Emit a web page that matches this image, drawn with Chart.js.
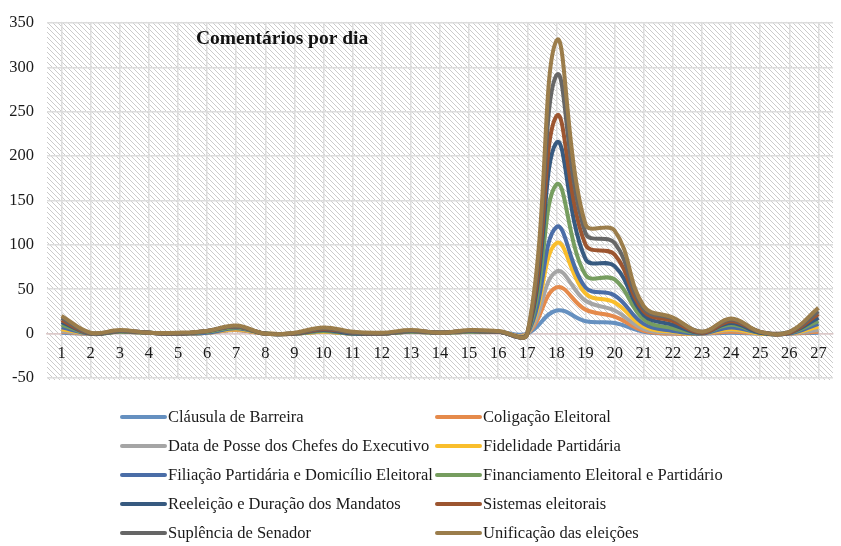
<!DOCTYPE html>
<html>
<head>
<meta charset="utf-8">
<script src="https://cdn.jsdelivr.net/npm/chart.js@4/dist/chart.umd.min.js"></script>
<style>
  html, body { margin: 0; padding: 0; background: #fff; }
  #wrap { width: 841px; height: 546px; position: relative; }
</style>
</head>
<body>
<div id="wrap"><canvas id="chart" width="841" height="546"></canvas></div>
<script>
// Comentários por dia - stacked smooth lines
const title = 'Comentários por dia';
const days = ['1','2','3','4','5','6','7','8','9','10','11','12','13','14','15','16','17','18','19','20','21','22','23','24','25','26','27'];
const yTicks = [-50, 0, 50, 100, 150, 200, 250, 300, 350];

const seriesNames = [
    'Cláusula de Barreira',
    'Coligação Eleitoral',
    'Data de Posse dos Chefes do Executivo',
    'Fidelidade Partidária',
    'Filiação Partidária e Domicílio Eleitoral',
    'Financiamento Eleitoral e Partidário',
    'Reeleição e Duração dos Mandatos',
    'Sistemas eleitorais',
    'Suplência de Senador',
    'Unificação das eleições'
];
const seriesColors = ['#6590c0', '#e58a4b', '#a5a5a5', '#f9be2c', '#4a6da7', '#769d5f', '#375a80', '#9c5530', '#666666', '#9b7d4b'];

const clausula      = [1, 0, 2, 1, 0, 1, 4, 0, 0, 2, 0, 0, 2, 1, 2, 2, 0, 26, 14, 12, 2, 0, 0, 1, 0, 0, 1];
const coligacao     = [1, 0, 0, 0, 0, 0, 0, 0, 0, 0, 0, 0, 0, 0, 0, 0, 0, 26, 13, 7, 1, 0, 0, 1, 0, 0, 1];
const dataPosse     = [1, 0, 0, 0, 0, 0, 1, 0, 0, 0, 0, 0, 0, 0, 0, 0, 0, 18, 10, 7, 2, 1, 0, 2, 0, 0, 2];
const fidelidade    = [2, 0, 0, 0, 0, 0, 0, 0, 0, 0, 0, 0, 0, 0, 0, 0, 0, 32, 8, 9, 3, 1, 0, 1, 0, 0, 4];
const filiacao      = [2, 0, 0, 0, 0, 0, 1, 0, 0, 1, 0, 0, 0, 0, 0, 0, 0, 18, 7, 8, 3, 1, 0, 2, 1, 0, 3];
const financiamento = [3, 0, 0, 0, 0, 1, 1, 0, 0, 0, 0, 0, 0, 0, 0, 0, 0, 48, 14, 18, 5, 3, 1, 3, 0, 1, 3];
const reeleicao     = [3, 0, 1, 0, 0, 1, 1, 0, 0, 1, 0, 0, 1, 0, 1, 0, 0, 47, 18, 15, 5, 4, 0, 2, 0, 0, 4];
const sistemas      = [2, 0, 0, 0, 0, 0, 0, 0, 0, 1, 1, 0, 0, 0, 0, 0, 0, 30, 16, 13, 4, 4, 0, 2, 1, 0, 4];
const suplencia     = [3, 0, 0, 0, 0, 0, 0, 0, 0, 1, 0, 0, 0, 0, 0, 0, 0, 46, 13, 13, 3, 3, 1, 2, 0, 1, 3];
const unificacao    = [2, 1, 1, 0, 1, 0, 1, 0, 1, 1, 1, 1, 1, 0, 1, 1, 0, 39, 10, 14, 3, 1, 0, 1, 0, 0, 4];

const seriesValues = [clausula, coligacao, dataPosse, fidelidade, filiacao, financiamento, reeleicao, sistemas, suplencia, unificacao];

const serif = '"Liberation Serif", "DejaVu Serif", serif';

// diagonal hatch tile for the plot background
function makeHatch() {
    const s = 5;
    const c = document.createElement('canvas');
    c.width = s; c.height = s;
    const g = c.getContext('2d');
    g.fillStyle = '#ffffff';
    g.fillRect(0, 0, s, s);
    g.strokeStyle = '#cbcbcb';
    g.lineWidth = 1;
    g.beginPath();
    g.moveTo(0, 0); g.lineTo(s, s);
    g.moveTo(-1, s - 1); g.lineTo(1, s + 1);
    g.moveTo(s - 1, -1); g.lineTo(s + 1, 1);
    g.stroke();
    return c;
}

const backgroundPlugin = {
    id: 'hatchBg',
    beforeDraw(chart) {
        const { ctx, chartArea } = chart;
        ctx.save();
        ctx.fillStyle = '#ffffff';
        ctx.fillRect(0, 0, chart.width, chart.height);
        ctx.fillStyle = ctx.createPattern(makeHatch(), 'repeat');
        ctx.fillRect(chartArea.left, chartArea.top - 1, chartArea.right - chartArea.left, chartArea.bottom - chartArea.top + 3);
        ctx.restore();
    }
};

// draw first dataset first so the top of the stack ends up on top
const drawOrderPlugin = {
    id: 'drawOrder',
    beforeDatasetsDraw(chart) {
        const { ctx, chartArea } = chart;
        ctx.save();
        ctx.beginPath();
        ctx.rect(chartArea.left, chartArea.top, chartArea.right - chartArea.left, chartArea.bottom - chartArea.top);
        ctx.clip();
        for (let i = 0; i < chart.data.datasets.length; i++) {
            chart.getDatasetMeta(i).controller.draw();
        }
        ctx.restore();
        return false;
    }
};

const titleLegendPlugin = {
    id: 'titleLegend',
    afterDraw(chart) {
        const ctx = chart.ctx;
        ctx.save();
        ctx.fillStyle = '#111';
        ctx.font = 'bold 19.5px ' + serif;
        ctx.textBaseline = 'middle';
        ctx.textAlign = 'left';
        ctx.fillText(title, 196, 39);

        ctx.font = '16.5px ' + serif;
        chart.data.datasets.forEach(function (ds, i) {
            const col = i % 2;
            const row = Math.floor(i / 2);
            const y = 417 + row * 29;
            const x0 = col === 0 ? 122 : 437;
            ctx.strokeStyle = ds.borderColor;
            ctx.lineWidth = 4;
            ctx.lineCap = 'round';
            ctx.beginPath();
            ctx.moveTo(x0, y);
            ctx.lineTo(x0 + 43, y);
            ctx.stroke();
            ctx.fillStyle = '#1a1a1a';
            ctx.fillText(ds.label, x0 + 46, y + 1);
        });
        ctx.restore();
    }
};

new Chart(document.getElementById('chart'), {
    type: 'line',
    data: {
        labels: days,
        datasets: seriesNames.map(function (name, i) {
            return {
                label: name,
                data: seriesValues[i],
                borderColor: seriesColors[i],
                backgroundColor: seriesColors[i],
                borderWidth: 4,
                fill: false,
                tension: 0.4,
                pointRadius: 0
            };
        })
    },
    options: {
        responsive: false,
        animation: false,
        layout: { padding: { left: 7, right: 8, top: 19, bottom: 168 } },
        plugins: {
            legend: { display: false },
            tooltip: { enabled: false }
        },
        scales: {
            x: {
                position: { y: 0 },
                offset: true,
                grid: { offset: false, color: '#dcdcdc', lineWidth: 1.5, drawTicks: false },
                border: { display: true, color: '#dcc9c9', width: 1.5 },
                ticks: { font: { family: serif, size: 16.5 }, color: '#1a1a1a', padding: 10, maxRotation: 0, autoSkip: false }
            },
            y: {
                stacked: true,
                min: -50,
                max: 350,
                afterFit: function (scale) { scale.width = 40; },
                afterBuildTicks: function (scale) { scale.ticks = yTicks.map(function (v) { return { value: v }; }); },
                grid: {
                    color: function (c) { return c.tick && c.tick.value === 0 ? '#dcc9c9' : '#dcdcdc'; },
                    lineWidth: 1.5,
                    drawTicks: false
                },
                border: { display: false },
                ticks: { font: { family: serif, size: 16.5 }, color: '#1a1a1a', padding: 13 }
            }
        }
    },
    plugins: [backgroundPlugin, drawOrderPlugin, titleLegendPlugin]
});
</script>
</body>
</html>
